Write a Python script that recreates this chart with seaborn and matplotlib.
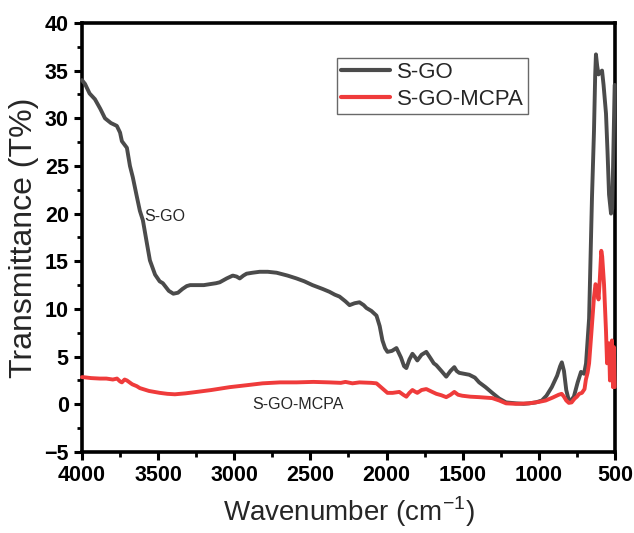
import matplotlib
matplotlib.use("Agg")
import matplotlib.pyplot as plt
from matplotlib.ticker import MultipleLocator
import seaborn as sns
import pandas as pd

# S-GO spectrum (wavenumber cm-1, transmittance %)
sgo_wn = [4000, 3980, 3950, 3915, 3880, 3849, 3810, 3771, 3750, 3738, 3705, 3685,
          3666, 3640, 3620, 3600, 3575, 3554, 3520, 3490, 3469, 3430, 3400, 3370,
          3340, 3312, 3290, 3250, 3200, 3161, 3120, 3095, 3050, 3010, 2985, 2964,
          2940, 2919, 2880, 2833, 2780, 2722, 2650, 2591, 2540, 2486, 2420, 2375,
          2340, 2309, 2270, 2243, 2210, 2178, 2150, 2132, 2100, 2066, 2045, 2027,
          2010, 1994, 1965, 1935, 1905, 1885, 1870, 1850, 1830, 1815, 1798, 1770,
          1739, 1710, 1690, 1673, 1640, 1608, 1580, 1555, 1540, 1523, 1490, 1457,
          1420, 1392, 1350, 1306, 1260, 1215, 1150, 1100, 1065, 1020, 980, 950,
          915, 880, 860, 849, 835, 820, 803, 785, 770, 745, 723, 703, 690, 670,
          651, 638, 630, 625, 617, 608, 598, 585, 575, 559, 549, 539, 526, 518,
          510, 502]
sgo_t = [34.0, 33.6, 32.6, 32.0, 31.0, 30.0, 29.5, 29.2, 28.5, 27.6, 26.9, 25.0,
         23.8, 21.8, 20.3, 19.3, 17.0, 15.1, 13.6, 12.9, 12.7, 11.9, 11.6, 11.7,
         12.1, 12.4, 12.5, 12.5, 12.5, 12.6, 12.7, 12.8, 13.2, 13.5, 13.4, 13.2,
         13.5, 13.7, 13.8, 13.9, 13.9, 13.8, 13.5, 13.2, 12.9, 12.5, 12.1, 11.8,
         11.5, 11.3, 10.8, 10.4, 10.6, 10.7, 10.4, 10.1, 9.8, 9.3, 8.2, 6.7,
         5.9, 5.5, 5.6, 5.9, 4.9, 4.0, 3.8, 4.7, 5.3, 5.0, 4.6, 5.2,
         5.5, 4.8, 4.3, 4.1, 3.5, 2.9, 3.5, 3.9, 3.5, 3.3, 3.2, 3.1,
         2.8, 2.3, 1.8, 1.2, 0.6, 0.2, 0.1, 0.05, 0.1, 0.2, 0.4, 0.9,
         1.8, 3.0, 4.0, 4.4, 3.5, 1.5, 0.4, 0.5, 0.8, 2.3, 3.4, 3.2, 4.3, 9.0,
         21.7, 28.6, 34.5, 36.7, 35.5, 34.6, 34.8, 35.0, 33.5, 30.5, 26.5, 22.0,
         20.0, 20.5, 27.0, 33.5]

# S-GO-MCPA spectrum
mcpa_wn = [4000, 3993, 3940, 3882, 3840, 3797, 3770, 3750, 3738, 3720, 3705, 3670,
           3640, 3620, 3560, 3489, 3440, 3390, 3320, 3246, 3150, 3030, 2920, 2814,
           2700, 2591, 2480, 2375, 2300, 2270, 2224, 2178, 2100, 2066, 2030, 1994,
           1960, 1916, 1890, 1870, 1850, 1830, 1810, 1798, 1770, 1739, 1700, 1673,
           1640, 1608, 1580, 1555, 1530, 1503, 1450, 1392, 1306, 1260, 1215, 1150,
           1065, 1000, 955, 910, 870, 850, 835, 820, 803, 785, 765, 750, 735, 717,
           700, 691, 680, 670, 655, 638, 628, 618, 608, 600, 590, 584, 572, 559,
           552, 546, 539, 533, 527, 520, 513, 507, 502]
mcpa_t = [2.85, 2.85, 2.75, 2.7, 2.7, 2.6, 2.7, 2.4, 2.3, 2.6, 2.5, 2.1,
          1.9, 1.7, 1.4, 1.2, 1.1, 1.05, 1.15, 1.3, 1.5, 1.8, 2.0, 2.2,
          2.3, 2.3, 2.35, 2.3, 2.25, 2.35, 2.2, 2.3, 2.25, 2.2, 1.7, 1.2,
          1.2, 1.3, 1.0, 0.8, 1.2, 1.5, 1.3, 1.2, 1.5, 1.6, 1.3, 1.1,
          0.95, 0.75, 1.0, 1.3, 1.0, 0.9, 0.8, 0.75, 0.65, 0.4, 0.1, 0.05,
          0.1, 0.25, 0.4, 0.7, 1.0, 1.1, 0.8, 0.4, 0.15, 0.2, 0.6, 0.8, 1.1, 1.2,
          1.6, 2.6, 3.3, 4.3, 7.5, 11.2, 12.6, 12.3, 11.0, 13.0, 16.1, 15.5, 12.6, 7.7,
          4.3, 5.0, 6.4, 2.5, 3.5, 6.7, 1.8, 6.0, 1.8]

GRAY = "#4b4b4b"
RED = "#ef3b3b"

sns.set_theme(style="ticks")
plt.rcParams["font.family"] = ["Liberation Sans", "DejaVu Sans"]
plt.rcParams["mathtext.fontset"] = "custom"
plt.rcParams["mathtext.rm"] = "Liberation Sans"

df = pd.concat([
    pd.DataFrame({"wn": sgo_wn, "T": sgo_t, "sample": "S-GO"}),
    pd.DataFrame({"wn": mcpa_wn, "T": mcpa_t, "sample": "S-GO-MCPA"}),
])

fig = plt.figure(figsize=(6.34, 5.33), dpi=100)
ax = fig.add_axes([0.1293, 0.152, 0.8407, 0.805])

sns.lineplot(data=df, x="wn", y="T", hue="sample", palette=[GRAY, RED],
             linewidth=2.8, ax=ax, sort=False, estimator=None)
for ln in ax.lines:
    ln.set_clip_on(False)
    ln.set_zorder(3)

ax.set_xlim(4000, 500)
ax.set_ylim(-5, 40)
ax.xaxis.set_major_locator(MultipleLocator(500))
ax.xaxis.set_minor_locator(MultipleLocator(250))
ax.yaxis.set_major_locator(MultipleLocator(5))
ax.yaxis.set_minor_locator(MultipleLocator(2.5))

for sp in ax.spines.values():
    sp.set_visible(True)
    sp.set_linewidth(2.6)
    sp.set_color("black")

ax.tick_params(which="major", direction="out", length=6, width=2.2,
               labelsize=15.5, top=False, right=False, color="black",
               labelcolor="black")
ax.tick_params(which="minor", direction="out", length=3.5, width=2.0,
               top=False, right=False, color="black")

ax.set_xlabel(r"Wavenumber (cm$^{\mathregular{-1}}$)", fontsize=20, labelpad=6)
ax.set_ylabel("Transmittance (T%)", fontsize=23, labelpad=4)

ax.text(3594, 19.7, "S-GO", fontsize=11.5, va="center", ha="left")
ax.text(2879, 0.0, "S-GO-MCPA", fontsize=11.5, va="center", ha="left")

leg = ax.legend(loc="upper left", bbox_to_anchor=(0.478, 0.919), borderaxespad=0,
                fontsize=16, frameon=True, fancybox=False, borderpad=0.2,
                labelspacing=0.25, handlelength=2.2, handletextpad=0.3)
leg.get_frame().set_edgecolor("#444444")
leg.get_frame().set_linewidth(1.0)
for h in leg.get_lines():
    h.set_linewidth(3.0)

fig.canvas.draw()
for lab in ax.get_xticklabels() + ax.get_yticklabels():
    lab.set_fontweight("bold")

fig.savefig("out.png", dpi=100)
